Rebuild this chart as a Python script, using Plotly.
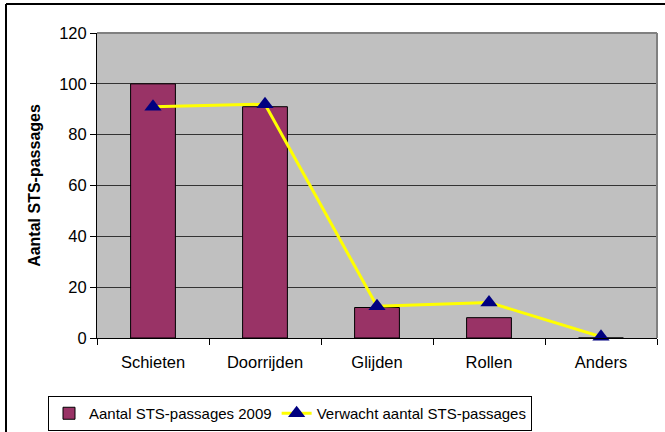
import plotly.graph_objects as go

categories = ["Schieten", "Doorrijden", "Glijden", "Rollen", "Anders"]
actual_2009 = [100, 91, 12, 8, 0]
expected = [91, 92, 12.5, 14, 0.5]
y_ticks = [0, 20, 40, 60, 80, 100, 120]

W, H = 665, 432
L, R, T, B = 97, 8, 33, 94
pw, ph = W - L - R, H - T - B

font = "Liberation Sans, Arial, sans-serif"

fig = go.Figure()
fig.add_trace(go.Bar(
    x=categories, y=actual_2009, name="Aantal STS-passages 2009",
    marker=dict(color="#993366", line=dict(color="#000000", width=1)),
    width=0.4,
))
fig.add_trace(go.Scatter(
    x=categories, y=expected, name="Verwacht aantal STS-passages",
    mode="lines+markers",
    line=dict(color="#FFFF00", width=3),
    marker=dict(symbol="triangle-up", color="#000080", size=15),
    cliponaxis=False,
))

# outer chart frame (left and top edges)
fx0 = (6 - L) / pw
fy1 = 1 + (T - 4) / ph
fig.add_shape(type="line", xref="paper", yref="paper", x0=fx0, x1=fx0, y0=fy1, y1=-2,
              line=dict(color="#000000", width=2))
fig.add_shape(type="line", xref="paper", yref="paper", x0=fx0, x1=2, y0=fy1, y1=fy1,
              line=dict(color="#000000", width=2))
# plot area frame on top and right
fig.add_shape(type="line", xref="paper", yref="paper", x0=0, x1=1, y0=1, y1=1,
              line=dict(color="#808080", width=2))
fig.add_shape(type="line", xref="paper", yref="paper", x0=1, x1=1, y0=0, y1=1,
              line=dict(color="#808080", width=2))

fig.update_layout(
    width=W, height=H,
    margin=dict(l=L, r=R, t=T, b=B, autoexpand=False),
    paper_bgcolor="#FFFFFF",
    plot_bgcolor="#C0C0C0",
    font=dict(family=font, size=16.5, color="#000000"),
    bargap=0.6,
    showlegend=True,
    legend=dict(
        orientation="h",
        x=(48 - L) / pw, xanchor="left",
        y=(338 - 396) / ph, yanchor="top",
        bordercolor="#000000", borderwidth=1,
        bgcolor="#FFFFFF",
        font=dict(family=font, size=15),
        tracegroupgap=0,
    ),
    xaxis=dict(
        range=[-0.5, 4.5],
        showline=True, linecolor="#000000", linewidth=1,
        ticks="outside", ticklen=6, tickcolor="#000000",
        tickson="boundaries",
        ticklabelstandoff=9,
        showgrid=False,
        tickfont=dict(size=16.5),
    ),
    yaxis=dict(
        range=[0, 120],
        tickvals=y_ticks,
        showline=True, linecolor="#000000", linewidth=1,
        ticks="outside", ticklen=6, tickcolor="#000000",
        showgrid=True, gridcolor="#333333", gridwidth=1,
        zeroline=False,
        tickfont=dict(size=16.5),
        title=dict(text="<b>Aantal STS-passages</b>", font=dict(size=16), standoff=14),
    ),
)

fig.write_html("out.html")
